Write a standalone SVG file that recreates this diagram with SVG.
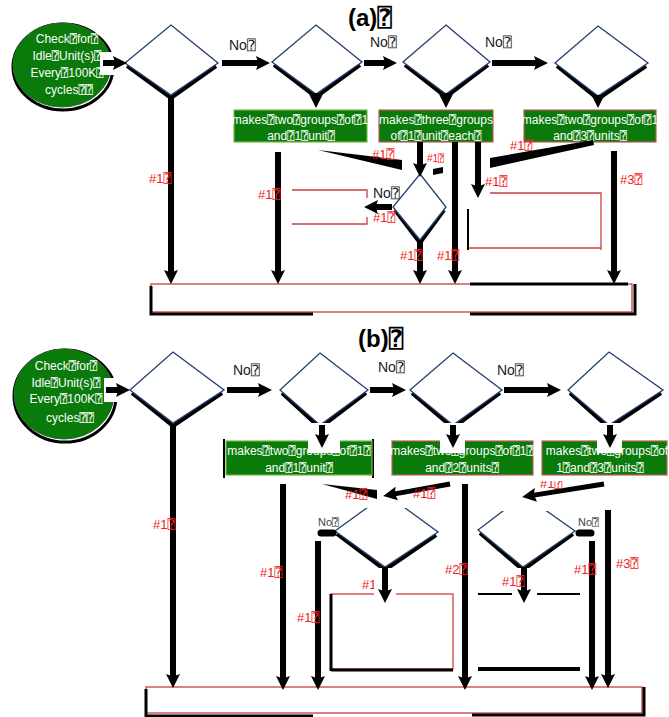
<svg xmlns="http://www.w3.org/2000/svg" width="669" height="717" viewBox="0 0 669 717">
<defs>
<style>
text{font-family:"Liberation Sans","DejaVu Sans Mono","DejaVu Sans",sans-serif}
.w{fill:#fff;font-size:12px;text-anchor:middle}
.ttl{font-size:24px;font-weight:bold;fill:#000}
.no{font-size:14px;fill:#222}
.nos{font-size:11px;fill:#444}
.r{font-size:13px;fill:#f02020}
.rs{font-size:10px;fill:#f02020}
.gb{fill:#0a7a0a;stroke:#c05a5a;stroke-width:1.2}
.gb2{fill:#0a7a0a;stroke:#7ab648;stroke-width:1.2}
.circ{fill:#0a7a0a;stroke:#2a6a2a;stroke-width:1}
.cs{fill:none;stroke:#000;stroke-width:3}
.dm{fill:#fff;stroke:#23406e;stroke-width:1.3}
.ds{fill:none;stroke:#000;stroke-width:4}
.ar{stroke:#000;stroke-width:6;fill:none;marker-end:url(#ah)}
.ar5{stroke:#000;stroke-width:5;fill:none;marker-end:url(#ah)}
.ln{stroke:#000;stroke-width:7;fill:none;stroke-linecap:round}
.rr{fill:none;stroke:#c84040;stroke-width:1.3}
.bk{fill:none;stroke:#000;stroke-width:3}
.wh{fill:#fff}
</style>
<marker id="ah" viewBox="0 0 14 14" refX="5" refY="7" markerWidth="14" markerHeight="14" markerUnits="userSpaceOnUse" orient="auto"><path d="M0,0 L14,7 L0,14 Q3,7 0,0Z" fill="#000"/></marker>
</defs>
<rect width="669" height="717" fill="#fff"/>

<!-- ===== (a) ===== -->
<text class="ttl" x="348" y="26">(a)⍰</text>

<g id="start-a">
<ellipse class="cs" cx="63" cy="67" rx="50" ry="43"/>
<ellipse class="circ" cx="62" cy="65" rx="49" ry="42"/>
<text class="w" x="67" y="43">Check⍰for⍰</text>
<text class="w" x="67" y="60">Idle⍰Unit(s)⍰</text>
<text class="w" x="67" y="77">Every⍰100K⍰</text>
<text class="w" x="69" y="94">cycles⍰⍰</text>
</g>

<g id="dec-a1"><polyline class="ds" points="127,66 171,98 216,66"/><polygon class="dm" points="171,25 218,63 171,95 125,63"/></g>
<g id="dec-a2"><polyline class="ds" points="274,65 316,97 360,65"/><polygon class="dm" points="316,25 362,62 316,94 272,62"/></g>
<g id="dec-a3"><polyline class="ds" points="405,65 446,97 488,65"/><polygon class="dm" points="446,25 490,62 446,94 403,62"/></g>
<g id="dec-a4"><polyline class="ds" points="557,66 598,99 646,66"/><polygon class="dm" points="598,26 648,63 598,96 555,63"/></g>
<g id="dec-a5"><polyline class="ds" points="395,210 420,243 444,210"/><polygon class="dm" points="420,174 446,207 420,240 393,207"/></g>

<g id="box-a2"><rect class="gb2" x="234" y="110" width="133" height="32"/>
<text class="w" x="300" y="124">makes⍰two⍰groups⍰of⍰1</text>
<text class="w" x="301" y="140">and⍰1⍰unit⍰</text></g>
<g id="box-a3"><rect class="gb" x="379" y="110" width="114" height="32"/>
<text class="w" x="436" y="124">makes⍰three⍰groups</text>
<text class="w" x="436" y="140">of⍰1⍰unit⍰each⍰</text></g>
<g id="box-a4"><rect class="gb" x="524" y="110" width="132" height="32"/>
<text class="w" x="590" y="124">makes⍰two⍰groups⍰of⍰1</text>
<text class="w" x="590" y="140">and⍰3⍰units⍰</text></g>

<g id="rect-a1"><path class="rr" d="M292,190 H367 V198 M292,224 H367 V217"/></g>
<g id="rect-a2"><path class="rr" d="M490,193 H601 V250 M468,209 V248 H601"/><path d="M468,209 V250" stroke="#000" stroke-width="2" fill="none"/></g>

<g id="end-a"><rect class="rr" x="151" y="284" width="481" height="28" fill="#fff"/>
<path class="bk" d="M151,286 V314 H313 M470,314 H635 V284 M470,284 H628" stroke-width="3.5"/></g>

<g id="connectors-a">
<rect class="wh" x="100" y="52" width="18" height="23"/>
<line class="ar" x1="103" y1="63" x2="118" y2="63"/>
<line class="ar" x1="222" y1="63" x2="261" y2="63"/>
<text class="no" x="229" y="50">No⍰</text>
<line class="ar" x1="364" y1="63" x2="388" y2="63"/>
<text class="no" x="370" y="47">No⍰</text>
<line class="ar" x1="492" y1="63" x2="539" y2="63"/>
<text class="no" x="485" y="47">No⍰</text>
<line class="ar" x1="316" y1="93" x2="316" y2="99"/>
<line class="ar" x1="446" y1="93" x2="446" y2="99"/>
<line class="ar" x1="598" y1="95" x2="598" y2="99"/>
<line class="ar" x1="171" y1="96" x2="171" y2="275"/>
<text class="r" x="149" y="183">#1⍰</text>
<line class="ar" x1="278" y1="152" x2="278" y2="275"/>
<text class="r" x="258" y="199">#1⍰</text>
<polygon points="318,150 402,160 402,170"/>
<polygon points="433,169 443,167 443,173 433,175"/>
<text class="r" x="372" y="159">#1⍰</text>
<line class="ar" x1="420" y1="142" x2="420" y2="168"/>
<text class="rs" x="427" y="162">#1⍰</text>
<line class="ar" x1="392" y1="207" x2="373" y2="207"/>
<text class="no" x="373" y="198">No⍰</text>
<text class="r" x="373" y="222">#1⍰</text>
<line class="ar" x1="420" y1="240" x2="420" y2="275"/>
<text class="r" x="400" y="260">#1⍰</text>
<line class="ar" x1="455" y1="142" x2="455" y2="275"/>
<text class="r" x="437" y="260">#1⍰</text>
<line class="ar" x1="478" y1="142" x2="478" y2="189"/>
<text class="r" x="485" y="186">#1⍰</text>
<polygon points="593,140 594,145 490,168 490,158"/>
<text class="r" x="510" y="150">#1⍰</text>
<line class="ar" x1="614" y1="151" x2="614" y2="275"/>
<text class="r" x="620" y="184">#3⍰</text>
</g>

<!-- ===== (b) ===== -->
<text class="ttl" x="358" y="347">(b)⍰</text>

<g id="start-b">
<ellipse class="cs" cx="65" cy="396" rx="51" ry="46"/>
<ellipse class="circ" cx="64" cy="394" rx="50" ry="45"/>
<text class="w" x="66" y="370">Check⍰for⍰</text>
<text class="w" x="66" y="387">Idle⍰Unit(s)⍰</text>
<text class="w" x="66" y="403">Every⍰100K⍰</text>
<text class="w" x="70" y="422">cycles⍰⍰</text>
</g>

<g id="dec-b1"><polyline class="ds" points="132,393 173,426 222,393"/><polygon class="dm" points="173,352 224,390 173,423 130,390"/></g>
<g id="dec-b2"><polyline class="ds" points="282,393 320,428 366,393"/><polygon class="dm" points="320,353 368,390 320,425 280,390"/></g>
<g id="dec-b3"><polyline class="ds" points="412,393 453,428 500,393"/><polygon class="dm" points="453,353 502,390 453,425 410,390"/></g>
<g id="dec-b4"><polyline class="ds" points="570,393 609,428 661,393"/><polygon class="dm" points="609,352 663,390 609,425 568,390"/></g>
<g id="dec-b5"><polyline class="ds" points="337,534 385,570 436,535"/><polygon class="dm" points="386,494 438,532 385,567 335,531"/></g>
<g id="dec-b6"><polyline class="ds" points="480,533 523,570 573,534"/><polygon class="dm" points="524,495 575,531 523,567 478,530"/></g>

<g id="box-b2"><path d="M224,439 V478 M373,439 V478" stroke="#000" stroke-width="2"/>
<rect class="gb2" x="226" y="441" width="146" height="34"/>
<text class="w" x="299" y="455">makes⍰two⍰groups⍰of⍰1⍰</text>
<text class="w" x="299" y="472">and⍰1⍰unit⍰</text></g>
<g id="box-b3"><rect class="gb" x="392" y="441" width="141" height="34"/>
<text class="w" x="462" y="455">makes⍰two⍰groups⍰of⍰1⍰</text>
<text class="w" x="462" y="472">and⍰2⍰units⍰</text></g>
<g id="box-b4"><rect class="gb" x="542" y="441" width="125" height="34"/>
<text class="w" x="607" y="455">makes⍰two⍰groups⍰of</text>
<text class="w" x="600" y="472">1⍰and⍰3⍰units⍰</text></g>

<g id="rect-b1"><rect class="rr" x="331" y="594" width="122" height="75"/><path class="bk" d="M331,594 V671 M331,670 H453"/></g>
<g id="rect-b2"><path d="M478,594 H512 M537,594 H580" stroke="#000" stroke-width="2" fill="none"/><path d="M478,669 H580" stroke="#000" stroke-width="4" fill="none"/></g>

<g id="end-b"><rect class="rr" x="146" y="687" width="496" height="26" fill="#fff"/>
<path class="bk" d="M146,689 V716 H313 M472,715 H644 V687" stroke-width="3.5"/></g>

<g id="connectors-b">
<rect class="wh" x="104" y="378" width="16" height="24"/>
<line class="ar" x1="106" y1="390" x2="121" y2="390"/>
<line class="ar" x1="227" y1="390" x2="263" y2="390"/>
<text class="no" x="233" y="375">No⍰</text>
<line class="ar" x1="370" y1="390" x2="397" y2="390"/>
<text class="no" x="378" y="372">No⍰</text>
<line class="ar" x1="504" y1="390" x2="552" y2="390"/>
<text class="no" x="497" y="375">No⍰</text>
<rect class="wh" x="308" y="423" width="32" height="30"/>
<line class="ar" x1="322" y1="425" x2="322" y2="439"/>
<rect class="wh" x="440" y="423" width="25" height="30"/>
<line class="ar" x1="453" y1="425" x2="453" y2="439"/>
<rect class="wh" x="597" y="423" width="25" height="30"/>
<line class="ar" x1="610" y1="425" x2="610" y2="439"/>
<line class="ar" x1="173" y1="425" x2="173" y2="679"/>
<text class="r" x="153" y="529">#1⍰</text>
<line class="ar" x1="283" y1="484" x2="283" y2="681"/>
<text class="r" x="260" y="577">#1⍰</text>
<rect class="wh" x="362" y="484" width="46" height="24"/>
<rect class="wh" x="500" y="484" width="48" height="27"/>
<polygon points="322,484 377,490 377,499"/>
<text class="r" x="345" y="499">#1⍰</text>
<line class="ar5" x1="450" y1="484" x2="392" y2="494.4"/>
<text class="r" x="413" y="498">#1⍰</text>
<line class="ar5" x1="604" y1="484" x2="531" y2="495.6"/>
<text class="r" x="540" y="488">#1⍰</text>
<rect class="wh" x="536" y="476" width="32" height="5"/>
<line class="ln" x1="321" y1="533" x2="333" y2="533"/>
<text class="nos" x="318" y="526">No⍰</text>
<line class="ar" x1="318" y1="541" x2="318" y2="681"/>
<text class="r" x="297" y="622">#1⍰</text>
<text class="r" x="362" y="589">#1⍰</text>
<rect class="wh" x="374" y="568" width="22" height="36"/>
<line class="ar" x1="385" y1="567" x2="385" y2="594"/>
<line class="ar" x1="465" y1="484" x2="465" y2="681"/>
<text class="r" x="445" y="574">#2⍰</text>
<rect class="wh" x="512" y="568" width="24" height="32"/>
<line class="ar" x1="524" y1="567" x2="524" y2="594"/>
<text class="r" x="502" y="586">#1⍰</text>
<line class="ln" x1="579" y1="533" x2="591" y2="533"/>
<text class="nos" x="578" y="526">No⍰</text>
<line class="ar" x1="592" y1="541" x2="592" y2="681"/>
<text class="r" x="574" y="574">#1⍰</text>
<line class="ar" x1="608" y1="510" x2="608" y2="679"/>
<text class="r" x="616" y="568">#3⍰</text>
</g>
</svg>
